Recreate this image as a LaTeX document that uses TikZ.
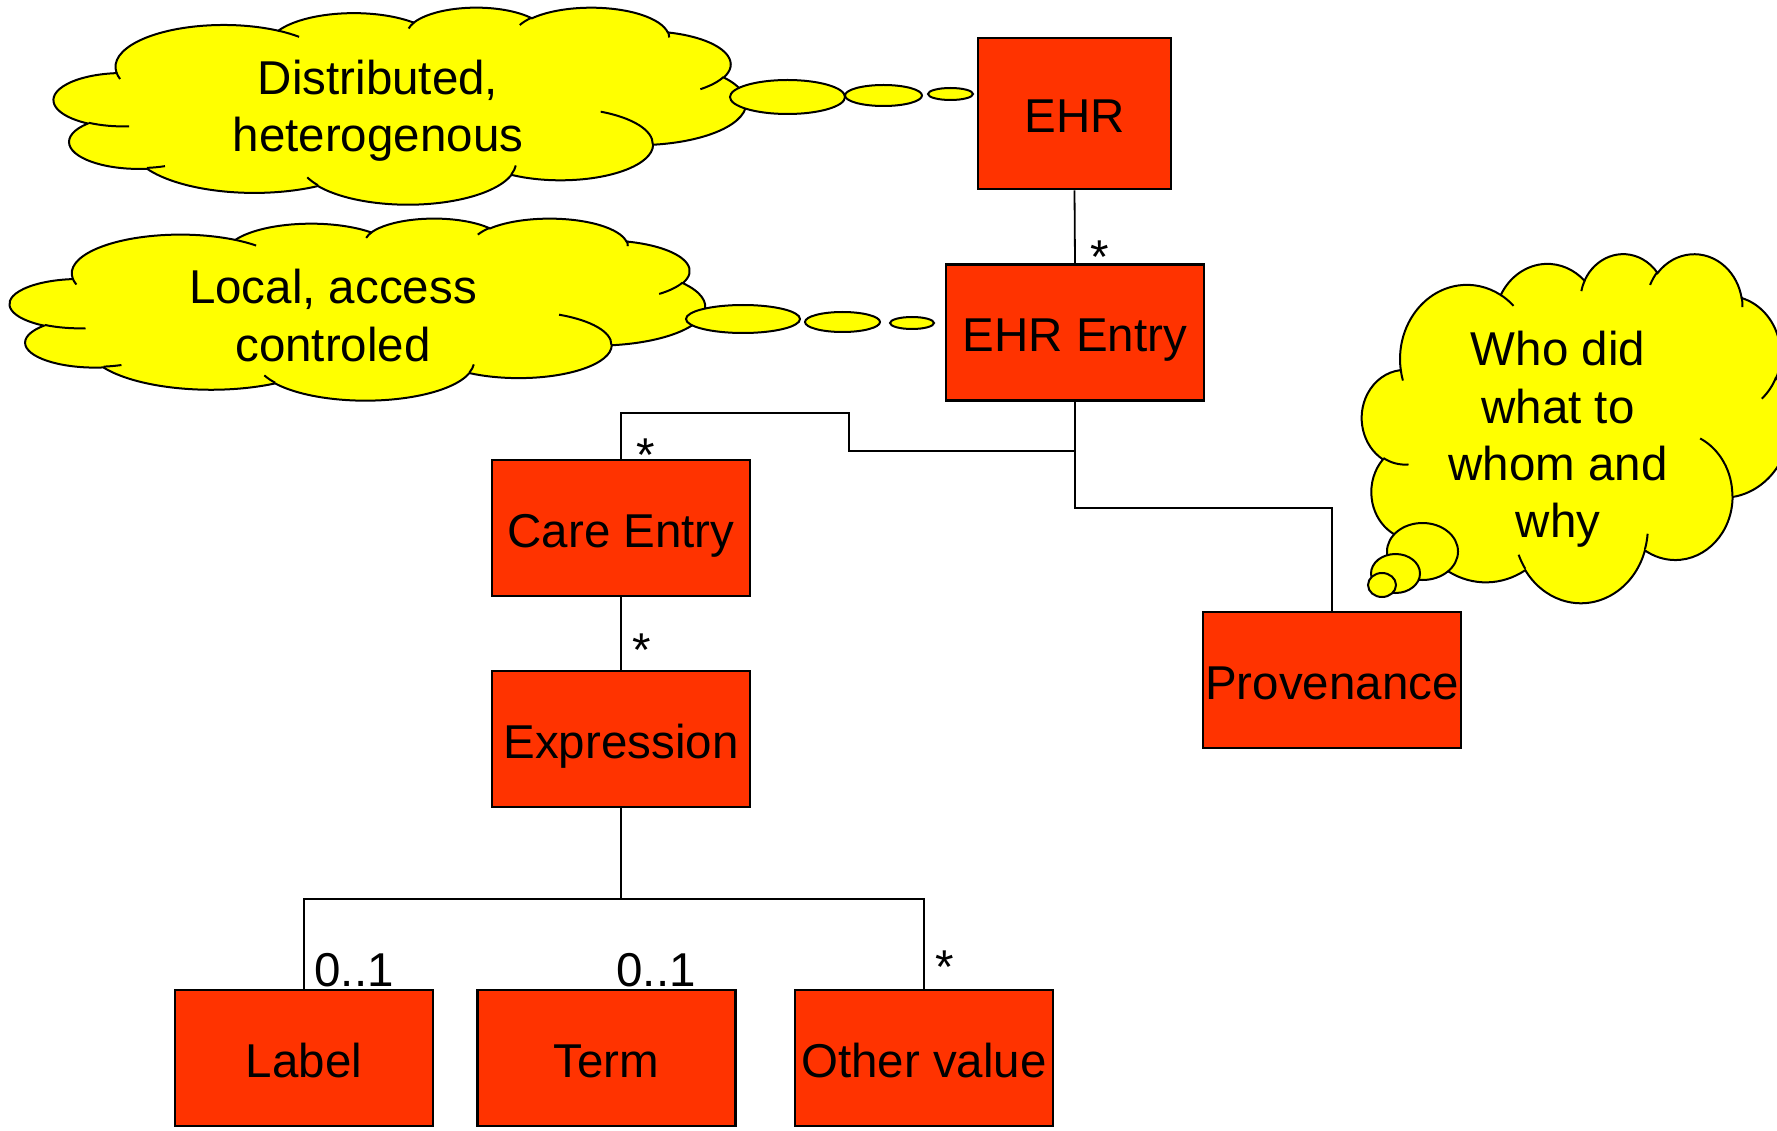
\documentclass[tikz,border=0pt]{standalone}
\usepackage{fontspec}
\setmainfont{Liberation Sans}
\definecolor{boxred}{RGB}{255,51,0}
\definecolor{cloudyellow}{RGB}{255,255,0}
\newcommand\bigfont{\fontsize{47.5pt}{57pt}\selectfont}
\newcommand\cldcalc[4]{%
  \pgfmathparse{atan2(#1*sin(#3),#2*cos(#3))}\xdef\cldS{\pgfmathresult}%
  \pgfmathparse{atan2(#1*sin(#3+#4),#2*cos(#3+#4))}\xdef\cldE{\pgfmathresult}%
  \pgfmathparse{\cldE+(#4>0)*(\cldE<\cldS)*360-(#4<0)*(\cldE>\cldS)*360}\xdef\cldE{\pgfmathresult}%
}
\newcommand\cloudshape{%
  \path[cloudfill] (39.00,143.70)
    \pgfextra{\cldcalc{67.53}{91.90}{-190.4875}{123.7805}} arc[start angle=\cldS,end angle=\cldE,x radius=67.53,y radius=91.90]
    \pgfextra{\cldcalc{53.33}{72.67}{-144.1024}{89.9452}} arc[start angle=\cldS,end angle=\cldE,x radius=53.33,y radius=72.67]
    \pgfextra{\cldcalc{43.65}{59.45}{-145.8079}{99.7230}} arc[start angle=\cldS,end angle=\cldE,x radius=43.65,y radius=59.45]
    \pgfextra{\cldcalc{48.57}{65.95}{-130.9861}{117.2417}} arc[start angle=\cldS,end angle=\cldE,x radius=48.57,y radius=65.95]
    \pgfextra{\cldcalc{53.33}{72.73}{-78.7089}{109.0269}} arc[start angle=\cldS,end angle=\cldE,x radius=53.33,y radius=72.73]
    \pgfextra{\cldcalc{67.75}{92.20}{-46.2673}{130.2690}} arc[start angle=\cldS,end angle=\cldE,x radius=67.75,y radius=92.20]
    \pgfextra{\cldcalc{57.85}{78.67}{0.6250}{114.0333}} arc[start angle=\cldS,end angle=\cldE,x radius=57.85,y radius=78.67]
    \pgfextra{\cldcalc{67.52}{92.15}{22.4516}{115.1726}} arc[start angle=\cldS,end angle=\cldE,x radius=67.52,y radius=92.15]
    \pgfextra{\cldcalc{77.20}{105.43}{66.2426}{75.7110}} arc[start angle=\cldS,end angle=\cldE,x radius=77.20,y radius=105.43]
    \pgfextra{\cldcalc{43.60}{59.18}{-274.9421}{146.7356}} arc[start angle=\cldS,end angle=\cldE,x radius=43.60,y radius=59.18]
    \pgfextra{\cldcalc{43.45}{59.45}{-246.8285}{152.5189}} arc[start angle=\cldS,end angle=\cldE,x radius=43.45,y radius=59.45]
    -- cycle;
  \draw[cloudline] (46.93,261.77) \pgfextra{\cldcalc{43.45}{59.45}{86.7420}{26.4295}} arc[start angle=\cldS,end angle=\cldE,x radius=43.45,y radius=59.45];
  \draw[cloudline] (69.28,348.99) \pgfextra{\cldcalc{43.60}{59.18}{73.6105}{11.4475}} arc[start angle=\cldS,end angle=\cldE,x radius=43.60,y radius=59.18];
  \draw[cloudline] (164.78,390.90) \pgfextra{\cldcalc{67.52}{92.15}{137.6242}{14.0811}} arc[start angle=\cldS,end angle=\cldE,x radius=67.52,y radius=92.15];
  \draw[cloudline] (288.27,347.51) \pgfextra{\cldcalc{67.52}{92.15}{6.4533}{15.9984}} arc[start angle=\cldS,end angle=\cldE,x radius=67.52,y radius=92.15];
  \draw[cloudline] (341.29,229.54) \pgfextra{\cldcalc{57.85}{78.67}{-70.2924}{70.9174}} arc[start angle=\cldS,end angle=\cldE,x radius=57.85,y radius=78.67];
  \draw[cloudline] (417.98,153.54) \pgfextra{\cldcalc{53.33}{72.73}{30.3180}{27.7515}} arc[start angle=\cldS,end angle=\cldE,x radius=53.33,y radius=72.73];
  \draw[cloudline] (383.24,54.26) \pgfextra{\cldcalc{48.57}{65.95}{-13.7443}{14.8589}} arc[start angle=\cldS,end angle=\cldE,x radius=48.57,y radius=65.95];
  \draw[cloudline] (290.78,39.52) \pgfextra{\cldcalc{48.57}{65.95}{-149.1815}{18.1954}} arc[start angle=\cldS,end angle=\cldE,x radius=48.57,y radius=65.95];
  \draw[cloudline] (221.41,47.20) \pgfextra{\cldcalc{43.65}{59.45}{-163.4943}{17.6864}} arc[start angle=\cldS,end angle=\cldE,x radius=43.65,y radius=59.45];
  \draw[cloudline] (140.00,51.92) \pgfextra{\cldcalc{67.53}{91.90}{-66.7070}{12.3194}} arc[start angle=\cldS,end angle=\cldE,x radius=67.53,y radius=91.90];
  \draw[cloudline] (41.27,157.89) \pgfextra{\cldcalc{67.53}{91.90}{157.6544}{11.8582}} arc[start angle=\cldS,end angle=\cldE,x radius=67.53,y radius=91.90];
}
\newcommand\drawcloud[4]{%
  \pgfmathsetmacro\cldsx{#3/432}\pgfmathsetmacro\cldsy{#4/432}%
  \begin{scope}[shift={(#1,#2)},x=\cldsx pt,y=-\cldsy pt]
    \cloudshape
  \end{scope}}
\tikzset{
  box/.style={draw=black, line width=2.6pt, fill=boxred, minimum width=258pt,
    minimum height=136pt, inner sep=0pt, text height=38pt, text depth=0pt, font=\bigfont},
  conn/.style={draw=black, line width=1.8pt},
  mult/.style={anchor=base, inner sep=0pt, font=\bigfont},
  ctext/.style={anchor=base, inner sep=0pt, font=\bigfont},
  cloudfill/.style={fill=cloudyellow, draw=black, line width=2pt},
  cloudline/.style={draw=black, line width=2pt},
}
\begin{document}
\begin{tikzpicture}[x=1pt,y=-1pt]
  \path[use as bounding box] (0,0) rectangle (1777,1131);
  \fill[white] (0,0) rectangle (1777,1131);
  \clip (0,0) rectangle (1777,1131);

  % clouds
  \drawcloud{54}{7}{692}{197}
  \draw[cloudfill] (787.5,97) ellipse [x radius=57.5, y radius=17];
  \draw[cloudfill] (883.5,95.5) ellipse [x radius=38.5, y radius=10.5];
  \draw[cloudfill] (950.5,94) ellipse [x radius=22.5, y radius=6];
  \node[ctext] (c1a) at (378,95) {Distributed,};
  \node[ctext] (c1b) at (378,152) {heterogenous};

  \drawcloud{10}{218}{695}{182}
  \draw[cloudfill] (743,319) ellipse [x radius=57, y radius=14];
  \draw[cloudfill] (842.5,322) ellipse [x radius=37.5, y radius=10];
  \draw[cloudfill] (912,323) ellipse [x radius=22, y radius=6];
  \node[ctext] (c2a) at (333,304) {Local, access};
  \node[ctext] (c2b) at (333,362) {controled};

  \drawcloud{1362}{253}{428}{349}
  \draw[cloudfill] (1422.5,551.5) ellipse [x radius=35.5, y radius=28.5];
  \draw[cloudfill] (1395.5,573.5) ellipse [x radius=24.5, y radius=19.5];
  \draw[cloudfill] (1382,585) ellipse [x radius=14, y radius=12];
  \node[ctext] (c3a) at (1558,366) {Who did};
  \node[ctext] (c3b) at (1558,423) {what to};
  \node[ctext] (c3c) at (1558,480) {whom and};
  \node[ctext] (c3d) at (1558,537) {why};

  % boxes
  \node[box, minimum width=193pt, minimum height=151pt] (ehr) at (1074.5,113.5) {EHR};
  \node[box] (entry) at (1075,332.5) {EHR Entry};
  \node[box] (care) at (621,528) {Care Entry};
  \node[box] (expr) at (621,739) {Expression};
  \node[box] (prov) at (1332,680) {Provenance};
  \node[box] (label) at (304,1058) {Label};
  \node[box] (term) at (606.5,1058) {Term};
  \node[box] (other) at (924,1058) {Other value};

  % connectors
  \draw[conn] (ehr.south) -- (entry.north);
  \draw[conn] (entry.south) -- ++(0,49) -| ++(-226,-38) -| (care.north);
  \draw[conn] (entry.south) -- ++(0,106) -| (prov.north);
  \draw[conn] (care.south) -- (expr.north);
  \draw[conn] (expr.south) -- ++(0,91) coordinate (junc);
  \draw[conn] (label.north) |- (junc) -| (other.north);

  % multiplicities
  \node[mult] (m1) at (1099.5,274) {*};
  \node[mult] (m2) at (646,471) {*};
  \node[mult] (m3) at (642,666) {*};
  \node[mult] (m4) at (945,983) {*};
  \node[mult] (m5) at (354,986) {0..1};
  \node[mult] (m6) at (656,986) {0..1};
\end{tikzpicture}
\end{document}
